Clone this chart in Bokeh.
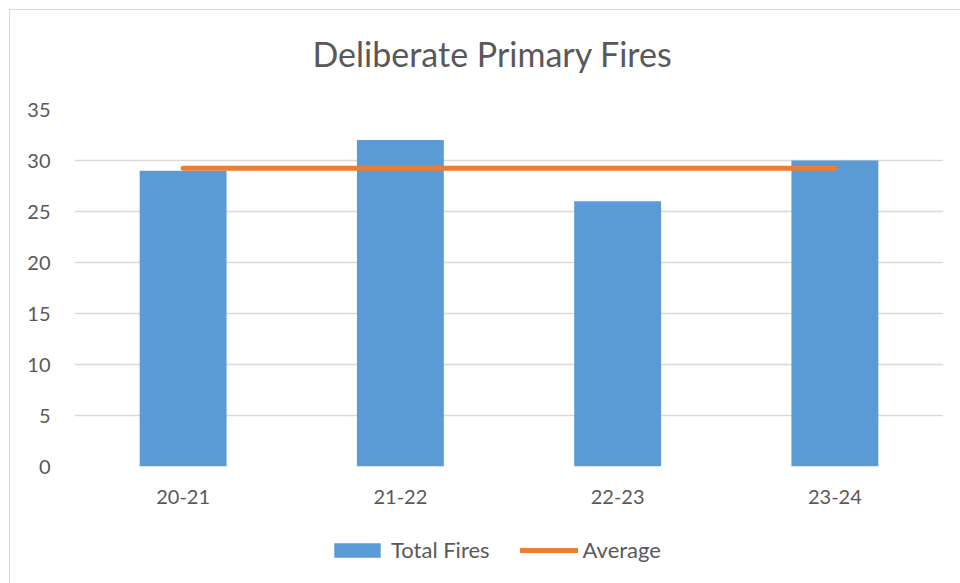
from bokeh.plotting import figure
from bokeh.layouts import column
from bokeh.models import FactorRange, Range1d, Legend, LegendItem, FixedTicker, Title
from bokeh.embed import file_html
from bokeh.resources import INLINE

categories = ["20-21", "21-22", "22-23", "23-24"]
total_fires = [29, 32, 26, 30]
average = [29.25, 29.25, 29.25, 29.25]
y_ticks = [0, 5, 10, 15, 20, 25, 30, 35]
title_text = "Deliberate Primary Fires"

TXT = "#595959"
GRID = "#d9d9d9"
FONT = "Lato"
BAR = "#5B9BD5"
LINE = "#ED7D31"

p = figure(
    x_range=FactorRange(*categories, range_padding=0),
    y_range=Range1d(0, 35),
    width=950, height=500,
    output_backend="svg", toolbar_location=None,
    min_border_left=64, min_border_right=17, min_border_top=99, min_border_bottom=44,
)
p.outline_line_color = None
p.background_fill_color = "white"
p.border_fill_color = "white"

# spacer between frame and title, then the title itself
p.add_layout(Title(text=" ", text_font_size="16px", text_font=FONT), "above")
p.add_layout(Title(text=title_text, align="left", offset=238,
                   text_font=FONT, text_font_size="34px", text_font_style="normal",
                   text_color=TXT), "above")

bars = p.vbar(x=categories, top=total_fires, width=0.4, fill_color=BAR, line_color=None)
line = p.line(x=categories, y=average, line_color=LINE, line_width=5, line_cap="round")

p.yaxis.ticker = FixedTicker(ticks=y_ticks)
p.yaxis.axis_line_color = None
p.yaxis.major_tick_line_color = None
p.yaxis.minor_tick_line_color = None
p.yaxis.major_label_standoff = 18
p.yaxis.major_label_text_font = FONT
p.yaxis.major_label_text_font_size = "20px"
p.yaxis.major_label_text_color = TXT

p.xaxis.axis_line_color = None
p.xaxis.major_tick_line_color = None
p.xaxis.major_label_standoff = 17
p.xaxis.major_label_text_font = FONT
p.xaxis.major_label_text_font_size = "20px"
p.xaxis.major_label_text_color = TXT

p.xgrid.grid_line_color = None
p.ygrid.grid_line_color = GRID
p.ygrid.grid_line_width = 1.5

# legend strip below the chart (same series, drawn out of its view so only the legend shows)
lf = figure(width=950, height=73, output_backend="svg", toolbar_location=None,
            x_axis_type=None, y_axis_type=None,
            x_range=FactorRange(*categories), y_range=Range1d(100, 101),
            min_border=0)
lf.outline_line_color = None
lf.grid.grid_line_color = None
lb = lf.vbar(x=categories, top=total_fires, width=0.4, fill_color=BAR, line_color=None)
ll = lf.line(x=categories, y=average, line_color=LINE, line_width=5, line_cap="round")

legend = Legend(
    items=[LegendItem(label="Total Fires", renderers=[lb]),
           LegendItem(label="Average", renderers=[ll])],
    orientation="horizontal", location=(254, 20),
    glyph_width=58, glyph_height=18, label_standoff=5, spacing=30,
    border_line_color=None, background_fill_alpha=0,
    label_text_font=FONT, label_text_font_size="22px", label_text_color=TXT,
    padding=0, margin=0,
)
lf.add_layout(legend, "center")

layout = column(p, lf, spacing=0, margin=(9, 0, 0, 9),
                styles={"border-left": "1px solid #d9d9d9", "border-top": "1px solid #d9d9d9"})

open("out.html", "w").write(file_html(layout, INLINE))
